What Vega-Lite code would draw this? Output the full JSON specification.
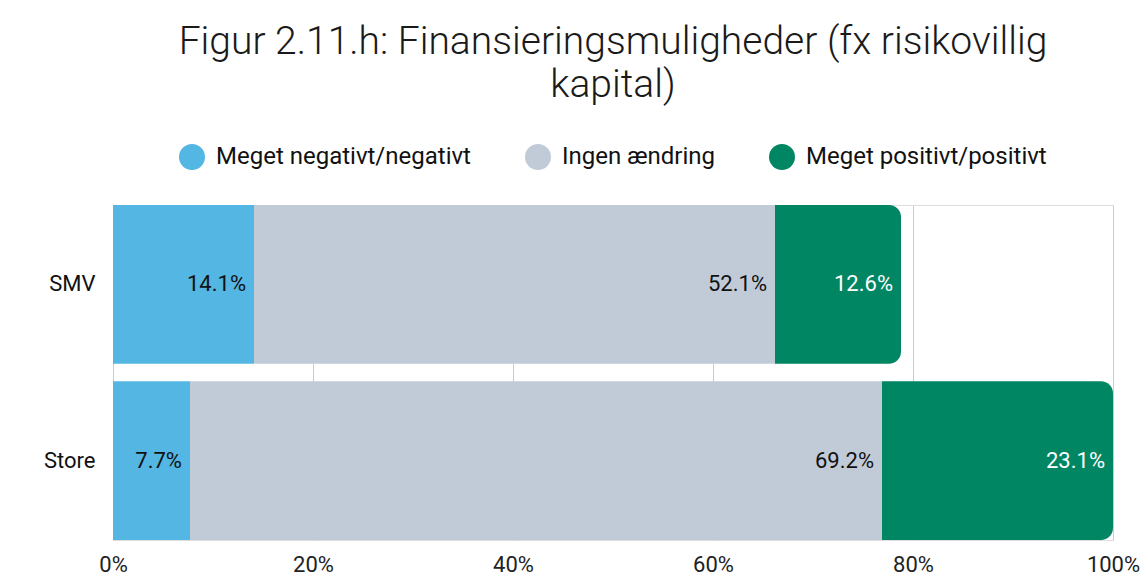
{
  "$schema": "https://vega.github.io/schema/vega-lite/v6.json",
  "autosize": {"type": "none"},
  "width": 1000,
  "height": 335,
  "padding": {"left": 113, "top": 205, "right": 32, "bottom": 38},
  "background": "white",
  "config": {
    "legend": {"layout": {"top": {"anchor": "middle"}}}
  },
  "title": {
    "text": ["Figur 2.11.h: Finansieringsmuligheder (fx risikovillig", "kapital)"],
    "font": "Roboto",
    "fontSize": 39,
    "fontWeight": 300,
    "color": "#1a1a1a",
    "lineHeight": 43,
    "anchor": "middle",
    "offset": 39
  },
  "data": {
    "values": [
      {"grp": "SMV", "cat": "Meget negativt/negativt", "ord": 1, "value": 14.1},
      {"grp": "SMV", "cat": "Ingen ændring", "ord": 2, "value": 52.1},
      {"grp": "SMV", "cat": "Meget positivt/positivt", "ord": 3, "value": 12.6},
      {"grp": "Store", "cat": "Meget negativt/negativt", "ord": 1, "value": 7.7},
      {"grp": "Store", "cat": "Ingen ændring", "ord": 2, "value": 69.2},
      {"grp": "Store", "cat": "Meget positivt/positivt", "ord": 3, "value": 23.1}
    ]
  },
  "transform": [
    {"stack": "value", "groupby": ["grp"], "sort": [{"field": "ord"}], "as": ["x0", "x1"]},
    {"calculate": "format(datum.value, '.1f') + '%'", "as": "label"}
  ],
  "encoding": {
    "y": {
      "field": "grp",
      "type": "nominal",
      "sort": ["SMV", "Store"],
      "scale": {"paddingInner": 0.1, "paddingOuter": 0},
      "axis": {
        "title": null,
        "ticks": false,
        "domain": false,
        "labelFont": "Roboto",
        "labelFontSize": 22,
        "labelColor": "#111111",
        "labelPadding": 18
      }
    }
  },
  "layer": [
    {
      "transform": [{"filter": "datum.ord < 3"}],
      "mark": {"type": "bar"},
      "encoding": {
        "x": {
          "field": "x0",
          "type": "quantitative",
          "scale": {"domain": [0, 100]},
          "axis": {
            "title": null,
            "values": [0, 20, 40, 60, 80, 100],
            "labelExpr": "datum.value + '%'",
            "labelFlush": false,
            "ticks": false,
            "domain": false,
            "grid": true,
            "gridColor": "#cccccc",
            "gridWidth": 1,
            "labelFont": "Roboto",
            "labelFontSize": 22,
            "labelColor": "#222222",
            "labelPadding": 14
          }
        },
        "x2": {"field": "x1"},
        "color": {
          "field": "cat",
          "type": "nominal",
          "scale": {
            "domain": ["Meget negativt/negativt", "Ingen ændring", "Meget positivt/positivt"],
            "range": ["#54B6E2", "#C1CBD8", "#008663"]
          },
          "legend": {
            "title": null,
            "orient": "top",
            "direction": "horizontal",
            "symbolType": "circle",
            "symbolSize": 676,
            "symbolStrokeWidth": 0,
            "labelFont": "Roboto",
            "labelFontSize": 24,
            "labelColor": "#111111",
            "labelOffset": 11,
            "labelLimit": 500,
            "columnPadding": 54,
            "offset": 35
          }
        }
      }
    },
    {
      "transform": [{"filter": "datum.ord == 3"}],
      "mark": {"type": "bar", "cornerRadiusTopRight": 12, "cornerRadiusBottomRight": 12},
      "encoding": {
        "x": {"field": "x0", "type": "quantitative"},
        "x2": {"field": "x1"},
        "color": {"field": "cat", "type": "nominal"}
      }
    },
    {
      "mark": {"type": "text", "align": "right", "baseline": "middle", "dx": -8, "font": "Roboto", "fontSize": 22},
      "encoding": {
        "x": {"field": "x1", "type": "quantitative"},
        "text": {"field": "label", "type": "nominal"},
        "color": {
          "condition": {"test": "datum.ord == 3", "value": "#ffffff"},
          "value": "#111111"
        }
      }
    }
  ]
}
